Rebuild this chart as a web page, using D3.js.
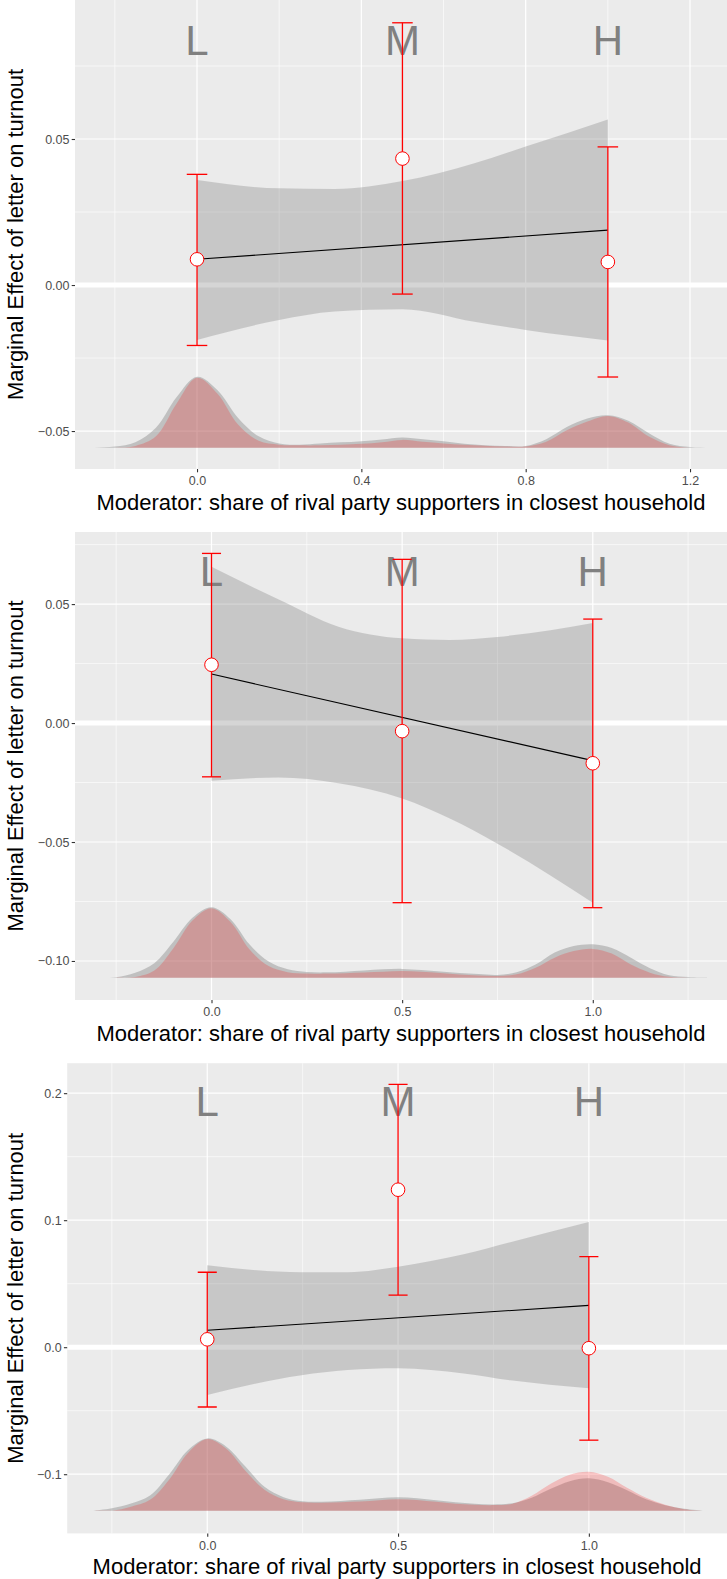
<!DOCTYPE html>
<html>
<head>
<meta charset="utf-8">
<script src="https://cdn.jsdelivr.net/npm/d3@7"></script>
<style>
  body { margin: 0; background: #fff; }
  svg { display: block; font-family: 'Liberation Sans', Arial, sans-serif; }
</style>
</head>
<body>
<div id="chart"></div>
<script>
// groups of the moderator (low / medium / high)
const levels = ['L', 'M', 'H']
const levelX = [0, 0.5, 1]

// grid of the moderator where the densities are read
const densityX = [-0.3, -0.25, -0.2, -0.15, -0.1, -0.05, 0, 0.05, 0.1, 0.15, 0.2, 0.25, 0.3, 0.35, 0.4, 0.45, 0.5,
  0.55, 0.6, 0.65, 0.7, 0.75, 0.8, 0.85, 0.9, 0.95, 1, 1.05, 1.1, 1.15, 1.2, 1.25, 1.3]

// ---- panel 1
const p1Estimate = [0.0088, 0.0433, 0.0079]
const p1Lower = [-0.0207, -0.0031, -0.0315]
const p1Upper = [0.0379, 0.0898, 0.0473]
const p1LineX = [0, 1]
const p1LineY = [0.0088, 0.0188]
const p1BandX = [0, 0.2, 0.335, 0.5, 0.675, 0.8, 1]
const p1BandHigh = [0.036, 0.0331, 0.0329, 0.0356, 0.0417, 0.0474, 0.0567]
const p1BandLow = [-0.0188, -0.012, -0.0091, -0.0083, -0.0126, -0.0154, -0.019]
// density heights, in % of the tallest peak
const p1DensGrey = [0, 0, 1.7, 7.8, 28, 71, 100, 81, 42, 16, 6, 4.2, 5.9, 7.5, 9.2, 11.7, 14.5,
  12, 8.9, 5.7, 3.5, 2.4, 2.4, 12, 29, 41, 45.7, 38, 20.5, 5.7, 1, 0, 0]
const p1DensRed = [0, 0, 0, 2.5, 16, 62, 98.6, 76, 32.5, 9.6, 4.2, 3.3, 3.3, 4.2, 5.4, 7.8, 11,
  8.2, 6, 4.2, 2.8, 1.8, 1.8, 8.5, 24.5, 36.8, 44.8, 35.4, 15.6, 3.5, 0, 0, 0]
const p1DensBase = -0.0557
const p1DensPeak = -0.0314
const p1LabelY = 0.0788
const p1XTicks = [0, 0.4, 0.8, 1.2]
const p1XMinor = [-0.2, 0.2, 0.6, 1]
const p1YTicks = [-0.05, 0, 0.05]
const p1YMinor = [-0.025, 0.025, 0.075]

// ---- panel 2
const p2Estimate = [0.0245, -0.0034, -0.0169]
const p2Lower = [-0.0226, -0.0755, -0.0776]
const p2Upper = [0.0713, 0.0688, 0.0437]
const p2LineX = [0, 1]
const p2LineY = [0.0206, -0.0158]
const p2BandX = [0, 0.175, 0.333, 0.5, 0.625, 0.75, 1]
const p2BandHigh = [0.0657, 0.052, 0.0405, 0.0356, 0.0349, 0.0362, 0.0421]
const p2BandLow = [-0.0242, -0.0229, -0.0253, -0.0317, -0.0401, -0.0507, -0.0755]
const p2DensGrey = [0, 0.7, 7, 20.6, 51, 85, 100, 83, 47, 22.8, 11.8, 8.1, 7.5, 8.5, 10, 11.8, 12.4,
  10.7, 8.8, 6.5, 5, 3.8, 7.5, 18.5, 35.6, 44.8, 47.4, 42, 28.4, 13.5, 3.4, 0.9, 0]
const p2DensRed = [0, 0, 1, 10, 41.7, 81, 98.6, 79, 40, 16.4, 7.8, 6, 5.7, 6.4, 7.4, 8.3, 9.4,
  8.3, 6.5, 4.3, 3.1, 2.4, 4.7, 14.2, 28.4, 37.7, 40.8, 34.1, 18.5, 7.1, 1.1, 0, 0]
const p2DensBase = -0.107
const p2DensPeak = -0.0774
const p2LabelY = 0.0577
const p2XTicks = [0, 0.5, 1]
const p2XMinor = [-0.25, 0.25, 0.75, 1.25]
const p2YTicks = [-0.1, -0.05, 0, 0.05]
const p2YMinor = [-0.075, -0.025, 0.025, 0.075]

// ---- panel 3
const p3Estimate = [0.0062, 0.124, -0.0008]
const p3Lower = [-0.0471, 0.041, -0.0732]
const p3Upper = [0.059, 0.207, 0.0713]
const p3LineX = [0, 1]
const p3LineY = [0.0133, 0.0329]
const p3BandX = [0, 0.247, 0.368, 0.5, 0.672, 0.794, 1]
const p3BandHigh = [0.0645, 0.059, 0.059, 0.0634, 0.0731, 0.0827, 0.0985]
const p3BandLow = [-0.0376, -0.022, -0.018, -0.0166, -0.0207, -0.0261, -0.0324]
const p3DensGrey = [0, 3.5, 10, 21, 50, 84, 100, 88.5, 61, 33, 18.7, 13, 12.4, 13.5, 15, 17.3, 18.7,
  17.3, 14.4, 11.6, 9.7, 8.7, 10.4, 18, 30.4, 40.8, 44.7, 39.4, 28.4, 15.9, 7.6, 2.8, 0]
const p3DensRed = [0, 0, 5.5, 15, 42.9, 80.2, 99, 85.7, 55.3, 29, 15.9, 11.5, 11, 11.8, 12.7, 14.5, 15.9,
  14.8, 12.2, 9.7, 8.3, 7.7, 9.7, 20.7, 37.3, 49.8, 53.9, 47, 31.8, 18, 8.3, 2.1, 0]
const p3DensBase = -0.1287
const p3DensPeak = -0.0718
const p3LabelY = 0.182
const p3XTicks = [0, 0.5, 1]
const p3XMinor = [-0.25, 0.25, 0.75, 1.25]
const p3YTicks = [-0.1, 0, 0.1, 0.2]
const p3YMinor = [-0.05, 0.05, 0.15]

const xTitle = 'Moderator: share of rival party supporters in closest household'
const yTitle = 'Marginal Effect of letter on turnout'

const width = 727
const height = 1579

const svg = d3
  .select('#chart')
  .append('svg')
  .attr('width', width)
  .attr('height', height)

const panels = [
  {
    box: { left: 75, right: 727, top: 0, bottom: 469 },
    xDomain: [-0.297, 1.29], yDomain: [-0.063, 0.0976],
    xTicks: p1XTicks, xMinor: p1XMinor, yTicks: p1YTicks, yMinor: p1YMinor,
    xFormat: '.1f', yFormat: '.2f',
    est: p1Estimate, lo: p1Lower, hi: p1Upper,
    lineX: p1LineX, lineY: p1LineY,
    bandX: p1BandX, bandHigh: p1BandHigh, bandLow: p1BandLow,
    densGrey: p1DensGrey, densRed: p1DensRed, densBase: p1DensBase, densPeak: p1DensPeak,
    labelY: p1LabelY
  },
  {
    box: { left: 75, right: 727, top: 532, bottom: 1000 },
    xDomain: [-0.358, 1.352], yDomain: [-0.1164, 0.0803],
    xTicks: p2XTicks, xMinor: p2XMinor, yTicks: p2YTicks, yMinor: p2YMinor,
    xFormat: '.1f', yFormat: '.2f',
    est: p2Estimate, lo: p2Lower, hi: p2Upper,
    lineX: p2LineX, lineY: p2LineY,
    bandX: p2BandX, bandHigh: p2BandHigh, bandLow: p2BandLow,
    densGrey: p2DensGrey, densRed: p2DensRed, densBase: p2DensBase, densPeak: p2DensPeak,
    labelY: p2LabelY
  },
  {
    box: { left: 67.2, right: 727, top: 1063.2, bottom: 1533.4 },
    xDomain: [-0.367, 1.362], yDomain: [-0.1466, 0.2236],
    xTicks: p3XTicks, xMinor: p3XMinor, yTicks: p3YTicks, yMinor: p3YMinor,
    xFormat: '.1f', yFormat: '.1f',
    est: p3Estimate, lo: p3Lower, hi: p3Upper,
    lineX: p3LineX, lineY: p3LineY,
    bandX: p3BandX, bandHigh: p3BandHigh, bandLow: p3BandLow,
    densGrey: p3DensGrey, densRed: p3DensRed, densBase: p3DensBase, densPeak: p3DensPeak,
    labelY: p3LabelY
  }
]

panels.forEach(drawPanel)

function drawPanel(p, i) {
  const b = p.box
  const x = d3.scaleLinear().domain(p.xDomain).range([b.left, b.right])
  const y = d3.scaleLinear().domain(p.yDomain).range([b.bottom, b.top])
  // density height (% of peak) -> effect units
  const dens = d3.scaleLinear().domain([0, 100]).range([p.densBase, p.densPeak])

  const g = svg.append('g')
  const clipId = 'clip-' + i
  g.append('clipPath')
    .attr('id', clipId)
    .append('rect')
    .attr('x', b.left)
    .attr('y', b.top)
    .attr('width', b.right - b.left)
    .attr('height', b.bottom - b.top)

  g.append('rect')
    .attr('x', b.left)
    .attr('y', b.top)
    .attr('width', b.right - b.left)
    .attr('height', b.bottom - b.top)
    .attr('fill', '#EBEBEB')

  // grid
  g.selectAll('.xminor')
    .data(p.xMinor)
    .join('line')
    .attr('x1', d => x(d)).attr('x2', d => x(d))
    .attr('y1', b.top).attr('y2', b.bottom)
    .attr('stroke', '#fff').attr('stroke-width', 0.6)
  g.selectAll('.yminor')
    .data(p.yMinor)
    .join('line')
    .attr('y1', d => y(d)).attr('y2', d => y(d))
    .attr('x1', b.left).attr('x2', b.right)
    .attr('stroke', '#fff').attr('stroke-width', 0.6)
  g.selectAll('.xmajor')
    .data(p.xTicks)
    .join('line')
    .attr('x1', d => x(d)).attr('x2', d => x(d))
    .attr('y1', b.top).attr('y2', b.bottom)
    .attr('stroke', '#fff').attr('stroke-width', 1.2)
  g.selectAll('.ymajor')
    .data(p.yTicks)
    .join('line')
    .attr('y1', d => y(d)).attr('y2', d => y(d))
    .attr('x1', b.left).attr('x2', b.right)
    .attr('stroke', '#fff').attr('stroke-width', 1.2)

  const plot = g.append('g').attr('clip-path', 'url(#' + clipId + ')')

  // zero reference line
  plot.append('line')
    .attr('x1', b.left).attr('x2', b.right)
    .attr('y1', y(0)).attr('y2', y(0))
    .attr('stroke', '#fff')
    .attr('stroke-width', 5)

  // confidence band of the linear marginal effect
  const band = d3.area()
    .x((d, j) => x(p.bandX[j]))
    .y0((d, j) => y(p.bandLow[j]))
    .y1(d => y(d))
    .curve(d3.curveMonotoneX)
  plot.append('path')
    .datum(p.bandHigh)
    .attr('d', band)
    .attr('fill', '#7F7F7F')
    .attr('fill-opacity', 0.33)

  plot.append('path')
    .datum(p.lineY)
    .attr('d', d3.line().x((d, j) => x(p.lineX[j])).y(d => y(d)))
    .attr('fill', 'none')
    .attr('stroke', '#000')
    .attr('stroke-width', 1.1)

  // distributions of the moderator
  const densArea = d3.area()
    .x((d, j) => x(densityX[j]))
    .y0(y(p.densBase))
    .y1(d => Math.min(y(dens(d)), y(p.densBase)))
    .curve(d3.curveCatmullRom.alpha(0.5))
  plot.append('path')
    .datum(p.densGrey)
    .attr('d', densArea)
    .attr('fill', '#7F7F7F')
    .attr('fill-opacity', 0.4)
  plot.append('path')
    .datum(p.densRed)
    .attr('d', densArea)
    .attr('fill', '#FF0000')
    .attr('fill-opacity', 0.2)

  // L / M / H labels
  plot.selectAll('.lev')
    .data(levels)
    .join('text')
    .attr('x', (d, j) => x(levelX[j]))
    .attr('y', y(p.labelY))
    .attr('text-anchor', 'middle')
    .attr('font-size', 42)
    .attr('fill', '#808080')
    .text(d => d)

  // binned estimates
  const bars = plot.selectAll('.bin')
    .data(p.est)
    .join('g')
  bars.append('line')
    .attr('x1', (d, j) => x(levelX[j])).attr('x2', (d, j) => x(levelX[j]))
    .attr('y1', (d, j) => y(p.lo[j])).attr('y2', (d, j) => y(p.hi[j]))
    .attr('stroke', 'red').attr('stroke-width', 1.3)
  bars.append('line')
    .attr('x1', (d, j) => x(levelX[j] - 0.025)).attr('x2', (d, j) => x(levelX[j] + 0.025))
    .attr('y1', (d, j) => y(p.lo[j])).attr('y2', (d, j) => y(p.lo[j]))
    .attr('stroke', 'red').attr('stroke-width', 1.3)
  bars.append('line')
    .attr('x1', (d, j) => x(levelX[j] - 0.025)).attr('x2', (d, j) => x(levelX[j] + 0.025))
    .attr('y1', (d, j) => y(p.hi[j])).attr('y2', (d, j) => y(p.hi[j]))
    .attr('stroke', 'red').attr('stroke-width', 1.3)
  bars.append('circle')
    .attr('cx', (d, j) => x(levelX[j]))
    .attr('cy', d => y(d))
    .attr('r', 6.8)
    .attr('fill', '#fff')
    .attr('stroke', 'red')
    .attr('stroke-width', 1)

  // axes
  const yAxis = d3.axisLeft(y)
    .tickValues(p.yTicks)
    .tickFormat(d3.format(p.yFormat))
    .tickSize(3.3)
    .tickPadding(2.2)
  g.append('g')
    .attr('class', 'axis')
    .attr('transform', 'translate(' + b.left + ',0)')
    .call(yAxis)

  const xAxis = d3.axisBottom(x)
    .tickValues(p.xTicks)
    .tickFormat(d3.format(p.xFormat))
    .tickSize(3.3)
    .tickPadding(4.3)
  g.append('g')
    .attr('class', 'axis')
    .attr('transform', 'translate(0,' + b.bottom + ')')
    .call(xAxis)

  g.selectAll('.axis path').remove()
  g.selectAll('.axis line').attr('stroke', '#333333').attr('stroke-width', 1.1)
  g.selectAll('.axis text')
    .attr('font-size', 12.5)
    .attr('font-family', "'Liberation Sans', Arial, sans-serif")
    .attr('fill', '#4D4D4D')

  // titles
  g.append('text')
    .attr('x', (b.left + b.right) / 2)
    .attr('y', b.bottom + 40.5)
    .attr('text-anchor', 'middle')
    .attr('font-size', 22)
    .attr('fill', '#000')
    .text(xTitle)

  g.append('text')
    .attr('transform', 'translate(22.5,' + (b.top + b.bottom) / 2 + ') rotate(-90)')
    .attr('text-anchor', 'middle')
    .attr('font-size', 22)
    .attr('fill', '#000')
    .text(yTitle)
}
</script>
</body>
</html>
